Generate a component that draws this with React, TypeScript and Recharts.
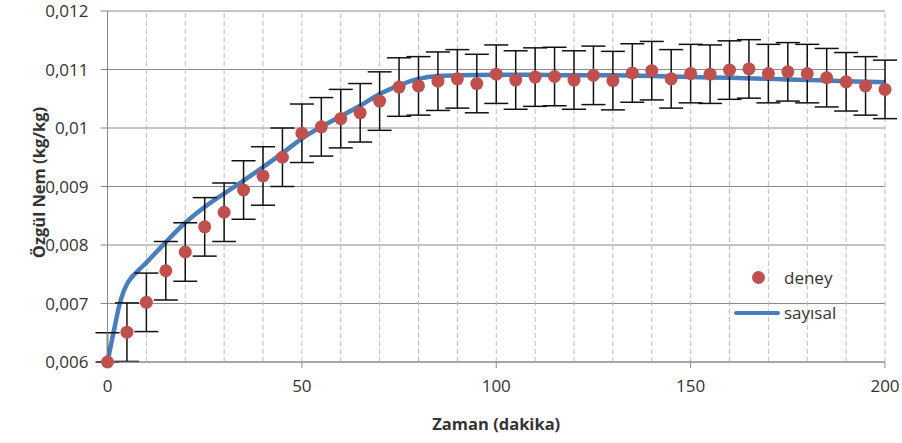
import React from 'react';
import {
  ComposedChart,
  Line,
  Scatter,
  ErrorBar,
  XAxis,
  YAxis,
  CartesianGrid,
  ReferenceLine,
} from 'recharts';

// deney (ölçüm) noktaları
const DENEY_X = [
  0, 5, 10, 15, 20, 25, 30, 35, 40, 45, 50, 55, 60, 65, 70, 75, 80, 85, 90, 95, 100,
  105, 110, 115, 120, 125, 130, 135, 140, 145, 150, 155, 160, 165, 170, 175, 180, 185, 190, 195, 200,
];
const DENEY_Y = [
  0.006, 0.00651, 0.00702, 0.00756, 0.00788, 0.00831, 0.00856, 0.00894, 0.00918, 0.0095, 0.00991,
  0.01002, 0.01016, 0.01026, 0.01046, 0.0107, 0.01072, 0.0108, 0.01084, 0.01076, 0.01092,
  0.01082, 0.01087, 0.01088, 0.01082, 0.0109, 0.01081, 0.01094, 0.01098, 0.01084, 0.01093,
  0.01092, 0.01099, 0.01101, 0.01093, 0.01096, 0.01093, 0.01086, 0.01079, 0.01072, 0.01066,
];
const HATA = 0.0005;

// sayısal model eğrisi
const SAYISAL_X = [
  0, 1, 2, 3, 4, 5, 6, 8, 10, 15, 20, 25, 30, 35, 40, 45, 50, 55, 60, 65, 70, 75, 80, 85, 90,
  100, 110, 120, 130, 140, 150, 160, 170, 180, 190, 200,
];
const SAYISAL_Y = [
  0.006, 0.00633, 0.00665, 0.00696, 0.00718, 0.00733, 0.00743, 0.00757, 0.0077, 0.00805, 0.00838,
  0.00865, 0.00888, 0.0091, 0.00933, 0.00957, 0.00982, 0.01002, 0.0102, 0.01038, 0.01058, 0.01073,
  0.01084, 0.01089, 0.0109, 0.01091, 0.01091, 0.0109, 0.0109, 0.01089, 0.01087, 0.01086, 0.01084,
  0.01082, 0.0108, 0.01078,
];

const X_TICKS = [0, 50, 100, 150, 200];
const X_GRID = [10, 20, 30, 40, 50, 60, 70, 80, 90, 100, 110, 120, 130, 140, 150, 160, 170, 180, 190, 200];
const Y_TICKS = [0.006, 0.007, 0.008, 0.009, 0.01, 0.011, 0.012];

const Y_MIN = 0.006;
const RED = '#c0504d';
const BLUE = '#4a7ebb';
const GRID = '#8a8a8a';
const FONT = '"Open Sans", sans-serif';

const deneyData = DENEY_X.map((x, i) => ({
  x,
  y: DENEY_Y[i],
  err: [Math.min(HATA, DENEY_Y[i] - Y_MIN), HATA],
}));
const sayisalData = SAYISAL_X.map((x, i) => ({ x, y: SAYISAL_Y[i] }));

const fmt = (v: number) => String(Number(v.toFixed(3))).replace('.', ',');

const YLabel = (props: any) => {
  const vb = props.viewBox || {};
  const cx = 38;
  const cy = vb.y + vb.height / 2 - 4;
  return (
    <text
      x={cx}
      y={cy}
      transform={`rotate(-90, ${cx}, ${cy})`}
      textAnchor="middle"
      dominantBaseline="central"
      fontFamily={FONT}
      fontSize={16.5}
      fontWeight="bold"
      fill="#333"
    >
      Özgül Nem (kg/kg)
    </text>
  );
};

// lejant, grafiğin içinde sağ altta
const LegendBox = () => (
  <div
    style={{
      position: 'absolute',
      left: 720,
      top: 260,
      width: 150,
      height: 70,
      fontFamily: FONT,
      fontSize: 17,
      color: '#333',
    }}
  >
    <div
      style={{
        position: 'absolute',
        left: 758 - 720 - 6.5,
        top: 277 - 260 - 6.5,
        width: 13,
        height: 13,
        borderRadius: '50%',
        background: RED,
      }}
    />
    <div style={{ position: 'absolute', left: 784 - 720, top: 278 - 260 - 12, lineHeight: '24px' }}>deney</div>
    <div
      style={{
        position: 'absolute',
        left: 734 - 720,
        top: 313 - 260 - 2,
        width: 46,
        height: 4,
        borderRadius: 2,
        background: BLUE,
      }}
    />
    <div style={{ position: 'absolute', left: 784 - 720, top: 313 - 260 - 12, lineHeight: '24px' }}>sayısal</div>
  </div>
);

export default function App() {
  return (
    <div style={{ position: 'absolute', left: 0, top: 0, width: 902, height: 443, background: '#fff' }}>
      <ComposedChart
        width={902}
        height={443}
        margin={{ top: 11, right: 17, bottom: 0, left: 28 }}
        style={{ fontFamily: FONT }}
      >
        <CartesianGrid vertical={false} stroke={GRID} strokeWidth={1} />
        {X_GRID.map(v => (
          <ReferenceLine key={v} x={v} stroke="#bdbdbd" strokeDasharray="5 3" strokeWidth={1} />
        ))}
        <XAxis
          type="number"
          dataKey="x"
          domain={[0, 200]}
          ticks={X_TICKS}
          height={81}
          tickSize={6}
          tickMargin={12}
          stroke={GRID}
          axisLine={{ stroke: GRID }}
          tickLine={{ stroke: GRID }}
          tick={{ fill: '#333', fontSize: 17, fontFamily: FONT }}
          label={{
            value: 'Zaman (dakika)',
            position: 'insideBottom',
            offset: 13,
            fill: '#333',
            fontSize: 16.5,
            fontWeight: 'bold',
            fontFamily: FONT,
          }}
        />
        <YAxis
          type="number"
          dataKey="y"
          domain={[0.006, 0.012]}
          ticks={Y_TICKS}
          width={79.5}
          tickSize={7}
          tickMargin={12}
          tickFormatter={fmt}
          axisLine={{ stroke: GRID }}
          tickLine={{ stroke: GRID }}
          tick={{ fill: '#333', fontSize: 17, fontFamily: FONT }}
          label={<YLabel />}
        />
        <Line
          data={sayisalData}
          dataKey="y"
          name="sayısal"
          type="monotone"
          stroke={BLUE}
          strokeWidth={4.5}
          dot={false}
          activeDot={false}
          isAnimationActive={false}
        />
        <Scatter
          data={deneyData}
          dataKey="y"
          name="deney"
          fill={RED}
          isAnimationActive={false}
          shape={(p: any) => <circle cx={p.cx} cy={p.cy} r={6.5} fill={RED} />}
        >
          <ErrorBar dataKey="err" direction="y" width={12} stroke="#111" strokeWidth={1.5} />
        </Scatter>
      </ComposedChart>
      <LegendBox />
    </div>
  );
}
